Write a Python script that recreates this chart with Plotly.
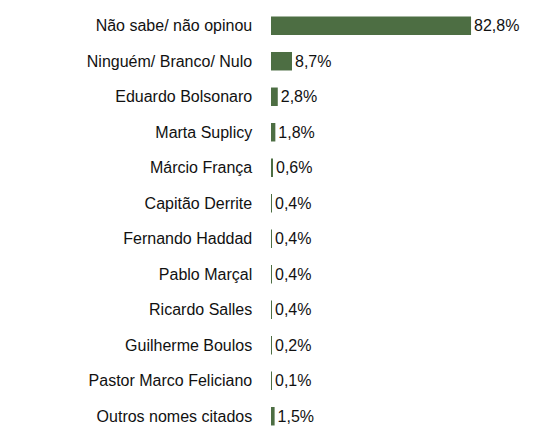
import plotly.graph_objects as go

categories = ["Não sabe/ não opinou", "Ninguém/ Branco/ Nulo", "Eduardo Bolsonaro", "Marta Suplicy",
              "Márcio França", "Capitão Derrite", "Fernando Haddad", "Pablo Marçal", "Ricardo Salles",
              "Guilherme Boulos", "Pastor Marco Feliciano", "Outros nomes citados"]
values = [82.8, 8.7, 2.8, 1.8, 0.6, 0.4, 0.4, 0.4, 0.4, 0.2, 0.1, 1.5]
labels = [f"{v:.1f}%".replace(".", ",") for v in values]

fig = go.Figure(go.Bar(
    y=categories, x=values, orientation="h", width=0.52,
    marker=dict(color="#4d6e43", line=dict(width=0)),
    text=labels, textposition="outside", cliponaxis=False,
    textfont=dict(size=16, color="#111"),
))
fig.update_layout(
    width=551, height=433, margin=dict(l=263, r=0, t=0, b=7, autoexpand=False),
    paper_bgcolor="white", plot_bgcolor="white", showlegend=False,
    font=dict(family="Liberation Sans, Arial, sans-serif", size=16, color="#111"),
    xaxis=dict(range=[0, 119.2], visible=False),
    yaxis=dict(autorange="reversed", showgrid=False, ticks="", ticksuffix="    ", automargin=False,
               showline=False, tickfont=dict(size=16)),
    bargap=0.48,
)
fig.write_html("out.html")
